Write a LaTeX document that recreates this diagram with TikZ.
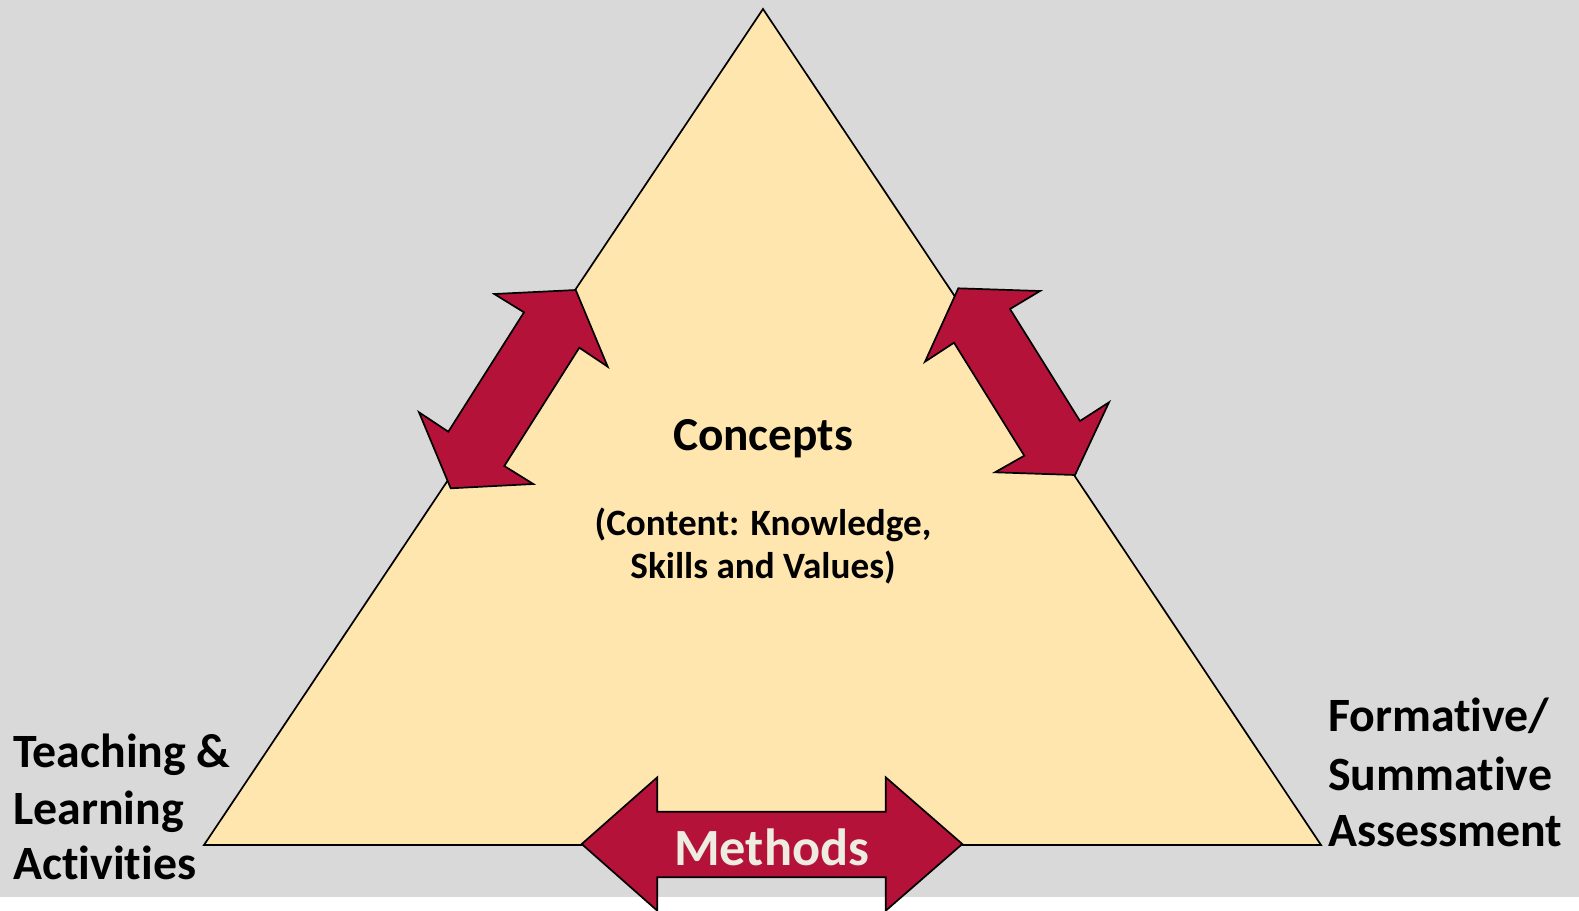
\documentclass[tikz,border=0pt]{standalone}
\usepackage{fontspec}
\setmainfont{Carlito}[Ligatures={NoCommon}]
\definecolor{bggray}{HTML}{D9D9D9}
\definecolor{trifill}{HTML}{FFE6AF}
\definecolor{arrowred}{HTML}{B5123A}
\definecolor{cream}{HTML}{EEECE1}
\tikzset{
  tri/.style={fill=trifill, draw=black, line width=1.7bp, line join=miter},
  bigarrow/.style={fill=arrowred, draw=black, line width=1.7bp, line join=miter},
  sidelabel/.style={anchor=base west, inner sep=0pt, font=\bfseries\fontsize{48}{56}\selectfont},
  centerlabel/.style={anchor=base, inner sep=0pt, font=\bfseries\fontsize{47.5}{56}\selectfont},
  sublabel/.style={anchor=base, inner sep=0pt, font=\bfseries\fontsize{37.3}{40}\selectfont},
  methodlabel/.style={anchor=base, inner sep=0pt, text=cream, font=\bfseries\fontsize{52.5}{56}\selectfont}
}
\begin{document}
\begin{tikzpicture}[x=1bp,y=-1bp]
\useasboundingbox (0,0) rectangle (1579,910);
\fill[bggray] (0,0) rectangle (1579,897);
% triangle
\draw[tri] (763,9) -- (1321,845) -- (204,845) -- cycle;
% left diagonal arrow
\draw[bigarrow] (575.7,290) -- (607.7,366.7) -- (579.3,347.7) -- (504.3,466) -- (533.3,484)
  -- (450.7,488.3) -- (419,412.3) -- (448.3,431.7) -- (524,312.3) -- (494.3,294) -- cycle;
% right diagonal arrow
\draw[bigarrow] (958.3,288.3) -- (1040,291) -- (1010,309) -- (1080,421) -- (1109,402.3)
  -- (1075,475) -- (995,472.3) -- (1024.3,455.7) -- (954,342.7) -- (925,361.7) -- cycle;
% methods arrow
\draw[bigarrow] (581.7,844) -- (657.3,777.3) -- (657.3,811.7) -- (885.7,811.7) -- (885.7,777.3)
  -- (962.3,844) -- (885.7,910.7) -- (885.7,877.3) -- (657.3,877.3) -- (657.3,910.7) -- cycle;
% texts
\node[centerlabel] (concepts) at (763,450.5) {Concepts};
\node[sublabel] (content1) at (763,535) {(Content: Knowledge,};
\node[sublabel] (content2) at (763,578.5) {Skills and Values)};
\node[methodlabel] (methods) at (771.7,865.7) {Methods};
\node[sidelabel] (tl1) at (13,767.3) {Teaching \&};
\node[sidelabel] (tl2) at (13,824) {Learning};
\node[sidelabel] (tl3) at (13,879) {Activities};
\node[sidelabel] (fs1) at (1328,731.7) {Formative/};
\node[sidelabel] (fs2) at (1328,790) {Summative};
\node[sidelabel] (fs3) at (1328,846.7) {Assessment};
\end{tikzpicture}
\end{document}
